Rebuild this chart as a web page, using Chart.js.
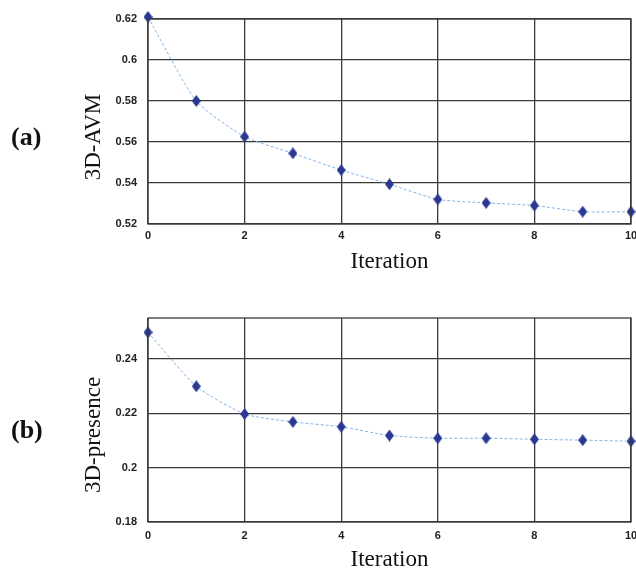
<!DOCTYPE html>
<html>
<head>
<meta charset="utf-8">
<script src="https://cdn.jsdelivr.net/npm/chart.js@4/dist/chart.umd.min.js"></script>
<style>
  html, body { margin: 0; padding: 0; background: #fff; }
  body { width: 636px; height: 569px; position: relative; overflow: hidden; }
  .panel { position: absolute; left: 0; width: 636px; }
  .tag { position: absolute; left: 11px; font: bold 26px "Liberation Serif", "Times New Roman", serif; color: #111; }
  .ytitle { position: absolute; font: 23px "Liberation Serif", "Times New Roman", serif; color: #111;
            white-space: nowrap; line-height: 1; transform: translate(-50%, -50%) rotate(-90deg); }
</style>
</head>
<body>
<div class="panel" style="top:0;height:285px"><canvas id="avmChart"></canvas></div>
<div class="panel" style="top:285px;height:284px"><canvas id="presenceChart"></canvas></div>
<div class="tag" style="top:122px">(a)</div>
<div class="tag" style="top:415px">(b)</div>
<div class="ytitle" style="left:92px;top:137px">3D-AVM</div>
<div class="ytitle" style="left:92px;top:435px">3D-presence</div>
<script>
const iterations = [0, 1, 2, 3, 4, 5, 6, 7, 8, 9, 10];
const avmValues = [0.621, 0.580, 0.5626, 0.5545, 0.5463, 0.5394, 0.532, 0.5303, 0.529, 0.526, 0.526];
const presenceValues = [0.2497, 0.2299, 0.2197, 0.2168, 0.215, 0.2118, 0.2108, 0.2108, 0.2104, 0.2101, 0.2097];
const xTicks = [0, 2, 4, 6, 8, 10];

// elongated diamond marker like the original
function makeDiamond() {
  const c = document.createElement('canvas');
  c.width = 9; c.height = 12;
  const g = c.getContext('2d');
  g.fillStyle = '#2b3892';
  g.beginPath();
  g.moveTo(4.5, 0); g.lineTo(9, 6); g.lineTo(4.5, 12); g.lineTo(0, 6);
  g.closePath(); g.fill();
  return c;
}
const diamond = makeDiamond();

const frame = {
  id: 'frame',
  afterDraw(chart) {
    const { ctx, chartArea: a } = chart;
    ctx.save();
    ctx.strokeStyle = '#3a3a3a';
    ctx.lineWidth = 1.3;
    ctx.strokeRect(a.left, a.top, a.right - a.left, a.bottom - a.top);
    ctx.restore();
  }
};

function makeChart(id, values, yMin, yMax, pad) {
  return new Chart(document.getElementById(id), {
    type: 'line',
    data: {
      datasets: [{
        data: iterations.map((x, i) => ({ x: x, y: values[i] })),
        borderColor: '#86b6e6',
        borderWidth: 1,
        borderDash: [3, 2],
        tension: 0.2,
        pointStyle: diamond,
        pointRadius: 5,
        clip: false
      }]
    },
    options: {
      responsive: true,
      maintainAspectRatio: false,
      animation: false,
      layout: { autoPadding: false, padding: { left: 0, right: 5, top: pad.top, bottom: 0 } },
      plugins: { legend: { display: false }, tooltip: { enabled: false } },
      scales: {
        x: {
          type: 'linear', min: 0, max: 10,
          afterFit: s => { s.height = pad.xh; s.paddingLeft = 0; s.paddingRight = 0; },
          afterBuildTicks: s => { s.ticks = xTicks.map(v => ({ value: v })); },
          grid: { color: '#3a3a3a', lineWidth: 1.3, drawTicks: false },
          border: { display: false },
          ticks: { color: '#222', padding: pad.tickPad, font: { family: 'Liberation Sans', weight: 'bold', size: 11 } },
          title: { display: true, text: 'Iteration', color: '#111', padding: { top: 0, bottom: pad.titlePad },
                   font: { family: 'Liberation Serif', size: 23 } }
        },
        y: {
          min: yMin, max: yMax,
          afterFit: s => { s.width = 148; s.paddingTop = 0; s.paddingBottom = 0; },
          grid: { color: '#3a3a3a', lineWidth: 1.3, drawTicks: false },
          border: { display: false },
          ticks: { stepSize: 0.02, includeBounds: false, color: '#222', padding: 11,
                   callback: v => String(+v.toFixed(3)),
                   font: { family: 'Liberation Sans', weight: 'bold', size: 11 } }
        }
      }
    },
    plugins: [frame]
  });
}

makeChart('avmChart', avmValues, 0.52, 0.62, { top: 19, xh: 61, tickPad: 5, titlePad: 9 });
makeChart('presenceChart', presenceValues, 0.18, 0.255, { top: 33, xh: 47, tickPad: 7, titlePad: -5 });
</script>
</body>
</html>
